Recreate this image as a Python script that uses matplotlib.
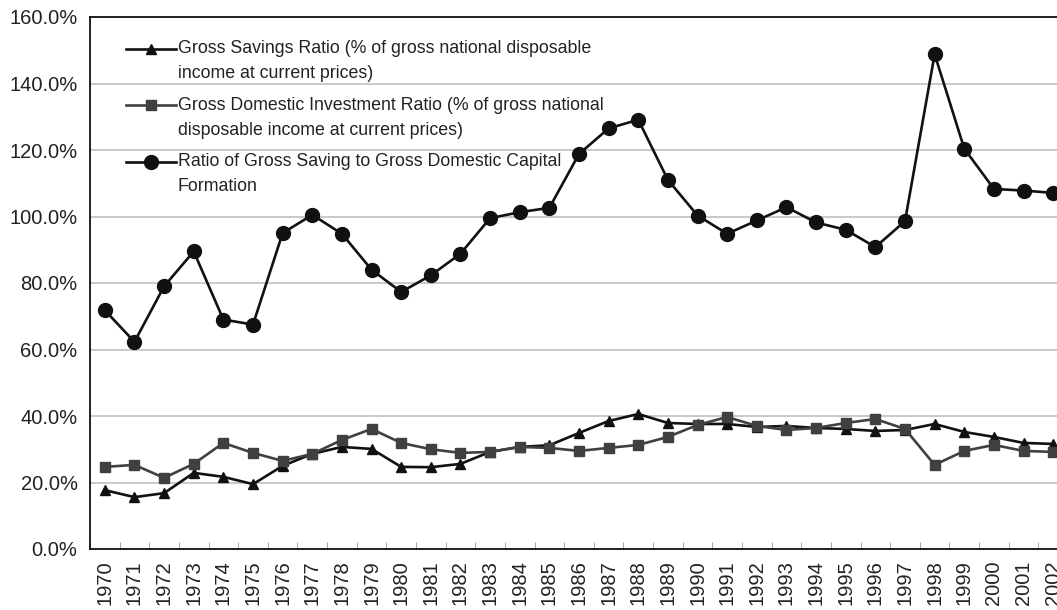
import matplotlib
matplotlib.use("Agg")
import matplotlib.pyplot as plt
import numpy as np
from matplotlib.ticker import FuncFormatter, FixedLocator
from matplotlib.legend_handler import HandlerLine2D

plt.rcParams['font.family'] = ['Liberation Sans', 'DejaVu Sans']

years = ["1970", "1971", "1972", "1973", "1974", "1975", "1976", "1977", "1978",
         "1979", "1980", "1981", "1982", "1983", "1984", "1985", "1986", "1987",
         "1988", "1989", "1990", "1991", "1992", "1993", "1994", "1995", "1996",
         "1997", "1998", "1999", "2000", "2001", "2002"]

savings_ratio = [17.7, 15.6, 16.8, 22.9, 21.7, 19.5, 25.0, 28.6, 30.7, 30.1, 24.7,
                 24.6, 25.6, 29.2, 30.7, 31.2, 34.9, 38.5, 40.6, 37.9, 37.6, 37.6,
                 36.7, 37.0, 36.4, 36.1, 35.5, 35.8, 37.6, 35.2, 33.7, 31.9, 31.6]

investment_ratio = [24.7, 25.3, 21.4, 25.6, 31.9, 28.9, 26.5, 28.6, 32.8, 36.1, 31.9,
                    30.0, 28.9, 29.2, 30.7, 30.4, 29.5, 30.4, 31.3, 33.7, 37.3, 39.7,
                    37.0, 35.8, 36.4, 37.9, 39.1, 36.1, 25.3, 29.5, 31.3, 29.5, 29.2]

saving_to_capital = [71.8, 62.3, 79.0, 89.5, 69.0, 67.5, 95.0, 100.5, 94.8, 84.0, 77.3,
                     82.3, 88.8, 99.5, 101.3, 102.6, 118.8, 126.5, 129.1, 111.0, 100.3,
                     94.8, 98.8, 102.8, 98.2, 96.0, 90.8, 98.6, 148.8, 120.4, 108.3,
                     107.8, 107.1]

labels = ["Gross Savings Ratio (% of gross national disposable\nincome at current prices)",
          "Gross Domestic Investment Ratio (% of gross national\ndisposable income at current prices)",
          "Ratio of Gross Saving to Gross Domestic Capital\nFormation"]


class FirstLineHandler(HandlerLine2D):
    """Line handler raised so it sits beside the first line of a 2-line label."""

    def __init__(self, dy, **kw):
        super().__init__(**kw)
        self.dy = dy

    def create_artists(self, legend, orig_handle, xdescent, ydescent, width,
                       height, fontsize, trans):
        arts = super().create_artists(legend, orig_handle, xdescent, ydescent,
                                      width, height, fontsize, trans)
        for a in arts:
            a.set_ydata(np.asarray(a.get_ydata(), dtype=float) + self.dy)
        return arts


W, H = 1057, 610
fig = plt.figure(figsize=(W / 100, H / 100), dpi=100)
ax = fig.add_axes([90 / W, 61 / H, (1068 - 90) / W, (549 - 17) / H])

x = np.arange(len(years))
l1, = ax.plot(x, savings_ratio, color="#111111", lw=1.9, marker="^", ms=7.5,
              label=labels[0], zorder=3)
l2, = ax.plot(x, investment_ratio, color="#404040", lw=1.9, marker="s", ms=7.5,
              label=labels[1], zorder=4)
l3, = ax.plot(x, saving_to_capital, color="#111111", lw=1.9, marker="o", ms=10,
              label=labels[2], zorder=5)

ax.set_xlim(-0.5, len(years) - 0.5)
ax.set_ylim(0, 160)
ax.set_yticks(np.arange(0, 161, 20))
ax.yaxis.set_major_formatter(FuncFormatter(lambda v, p: f"{v:.1f}%"))
ax.yaxis.grid(True, color="#c0c0c0", lw=1.2)
ax.set_axisbelow(True)
ax.tick_params(axis="y", length=0, pad=9, labelsize=14.5, labelcolor="#222222")

ax.set_xticks(x)
ax.set_xticklabels(years, rotation=90, fontsize=14.5, color="#222222")
ax.xaxis.set_minor_locator(FixedLocator(np.arange(-0.5, len(years), 1.0)))
ax.tick_params(axis="x", which="major", length=0, pad=8)
ax.tick_params(axis="x", which="minor", length=5, direction="in", color="#999999")

for s in ["left", "bottom", "top", "right"]:
    ax.spines[s].set_color("#111111")
    ax.spines[s].set_linewidth(1.3)

hmap = {h: FirstLineHandler(9.0) for h in (l1, l2, l3)}
leg = ax.legend(loc="upper left", bbox_to_anchor=(126 / W, 1 - 40 / H),
                bbox_transform=fig.transFigure, frameon=False, fontsize=12.8,
                handlelength=2.8, handletextpad=0.12, labelspacing=0.81,
                borderpad=0, borderaxespad=0, handler_map=hmap)
for t in leg.get_texts():
    t.set_color("#222222")
    t.set_linespacing(1.63)

fig.savefig("out.png", dpi=100, facecolor="white")
